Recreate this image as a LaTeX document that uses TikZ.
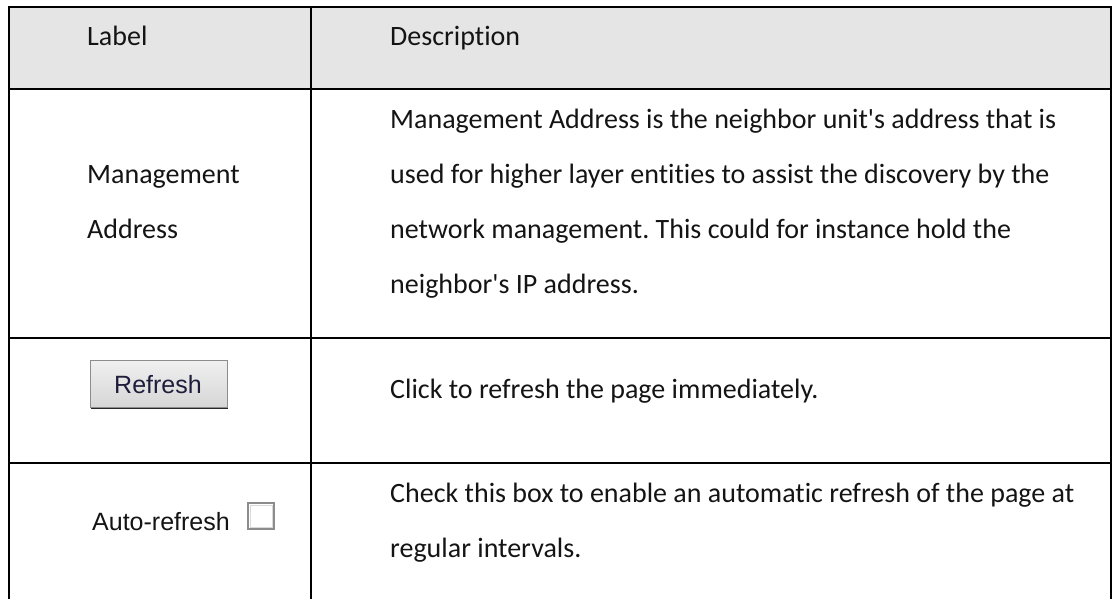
\documentclass[tikz,border=0pt]{standalone}
\usepackage{fontspec}
\newfontfamily\descfont{Carlito}[RawFeature={-liga;-clig}]
\newfontfamily\arialfont{Liberation Sans}
\usetikzlibrary{shadings}
\frenchspacing
\definecolor{headgray}{HTML}{E5E5E5}
\definecolor{txt}{HTML}{141414}
\definecolor{btnborder}{HTML}{8C8C8C}
\definecolor{btntxt}{HTML}{1E1E3C}
\begin{document}
\begin{tikzpicture}[x=1pt,y=-1pt,
  grid/.style={line width=2.2pt, draw=black},
  body/.style={anchor=base west, inner sep=0pt, text=txt, font=\descfont\fontsize{28}{33}\selectfont},
  uitext/.style={anchor=base west, inner sep=0pt, font=\arialfont\fontsize{25}{30}\selectfont}]
\useasboundingbox (0,0) rectangle (1113,598);
\begin{scope}
\clip (0,0) rectangle (1113,598);
% header fill
\fill[headgray] (9,7) rectangle (1111,89);
% grid
\draw[grid] (9,620) -- (9,7) -- (1111,7) -- (1111,620);
\draw[grid] (311,7) -- (311,620);
\draw[grid] (9,89) -- (1111,89);
\draw[grid] (9,338) -- (1111,338);
\draw[grid] (9,463) -- (1111,463);
\end{scope}
% header
\node[body] (hlabel) at (87,45) {Label};
\node[body] (hdesc) at (390,45) {Description};
% row 1
\node[body] (l1a) at (87,183) {Management};
\node[body] (l1b) at (87,238) {Address};
\node[body] (d1a) at (390,128) {Management Address is the neighbor unit's address that is};
\node[body] (d1b) at (390,183) {used for higher layer entities to assist the discovery by the};
\node[body] (d1c) at (390,238) {network management. This could for instance hold the};
\node[body] (d1d) at (390,293) {neighbor's IP address.};
% row 2
\shade[top color=white!94!black, bottom color=white!84!black, draw=btnborder, line width=1pt] (90,360) rectangle (227,407);
\draw[black!85, line width=1.6pt] (91,408.5) -- (227.5,408.5);
\node[uitext, text=btntxt] (btn) at (114,393) {Refresh};
\node[body] (d2) at (390,398) {Click to refresh the page immediately.};
% row 3
\node[uitext, text=txt] (auto) at (92,530) {Auto-refresh};
\draw[draw=black!45, line width=1.6pt, fill=white] (248,503) rectangle (274,529);
\draw[draw=black!15, line width=0.8pt] (250,505) rectangle (272,527);
\node[body] (d3a) at (390,502) {Check this box to enable an automatic refresh of the page at};
\node[body] (d3b) at (390,557) {regular intervals.};
\end{tikzpicture}
\end{document}
